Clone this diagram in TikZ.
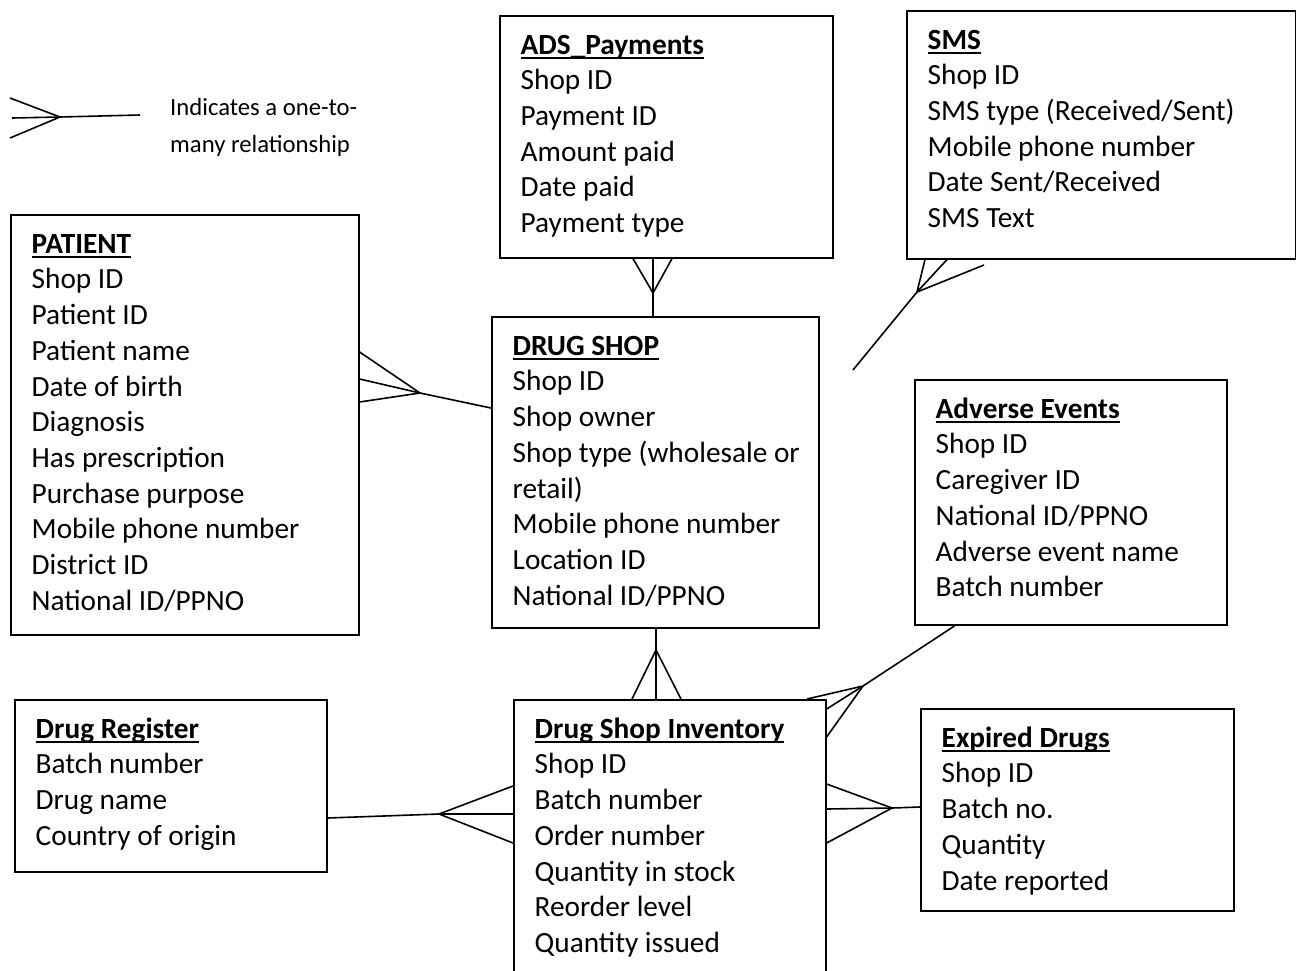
\documentclass[tikz,border=0pt]{standalone}
\usepackage{fontspec}
\setmainfont{Carlito}
\newcommand{\hd}[1]{\setbox0\hbox{\bfseries #1}\rlap{\rule[-4.5pt]{\wd0}{2pt}}\box0}
\begin{document}
\begin{tikzpicture}[x=1pt,y=-1pt,
  box/.style={draw, line width=1.6pt, inner sep=0pt, anchor=north west},
  txt/.style={anchor=north west, align=left, inner sep=0pt, font=\fontsize{29.3}{35.7}\selectfont},
  conn/.style={line width=1.6pt, line join=miter}]
\useasboundingbox (0,0) rectangle (1296,970);
\clip (0,0) rectangle (1296,970);
\fill[white] (0,0) rectangle (1296,970);

% boxes
\node[box, minimum width=333pt, minimum height=242pt] (ads) at (499,15) {};
\node[box, minimum width=389pt, minimum height=248pt] (sms) at (906,10) {};
\node[box, minimum width=348pt, minimum height=420pt] (pat) at (10,214) {};
\node[box, minimum width=327pt, minimum height=311pt] (shop) at (491,316) {};
\node[box, minimum width=312pt, minimum height=245pt] (adv) at (914,379) {};
\node[box, minimum width=312pt, minimum height=172pt] (reg) at (14,699) {};
\node[box, minimum width=312pt, minimum height=290pt] (inv) at (513,699) {};
\node[box, minimum width=313pt, minimum height=202pt] (exp) at (920,708) {};

% texts
\node[txt] (adst) at ([xshift=21.5pt,yshift=-14pt]ads.north west)
 {\strut\hd{ADS\_Payments}\\Shop ID\\Payment ID\\Amount paid\\Date paid\\Payment type};
\node[txt] (smst) at ([xshift=21.5pt,yshift=-14pt]sms.north west)
 {\strut\hd{SMS}\\Shop ID\\SMS type (Received/Sent)\\Mobile phone number\\Date Sent/Received\\SMS Text};
\node[txt] (patt) at ([xshift=21.5pt,yshift=-14pt]pat.north west)
 {\strut\hd{PATIENT}\\Shop ID\\Patient ID\\Patient name\\Date of birth\\Diagnosis\\Has prescription\\Purchase purpose\\Mobile phone number\\District ID\\National ID/PPNO};
\node[txt] (shopt) at ([xshift=21.5pt,yshift=-14pt]shop.north west)
 {\strut\hd{DRUG SHOP}\\Shop ID\\Shop owner\\Shop type (wholesale or\\retail)\\Mobile phone number\\Location ID\\National ID/PPNO};
\node[txt] (advt) at ([xshift=21.5pt,yshift=-14pt]adv.north west)
 {\strut\hd{Adverse Events}\\Shop ID\\Caregiver ID\\National ID/PPNO\\Adverse event name\\Batch number};
\node[txt] (regt) at ([xshift=21.5pt,yshift=-14pt]reg.north west)
 {\strut\hd{Drug Register}\\Batch number\\Drug name\\Country of origin};
\node[txt] (invt) at ([xshift=21.5pt,yshift=-14pt]inv.north west)
 {\strut\hd{Drug Shop Inventory}\\Shop ID\\Batch number\\Order number\\Quantity in stock\\Reorder level\\Quantity issued};
\node[txt] (expt) at ([xshift=21.5pt,yshift=-14pt]exp.north west)
 {\strut\hd{Expired Drugs}\\Shop ID\\Batch no.\\Quantity\\Date reported};

% legend
\coordinate (c0) at (60,117);
\coordinate (l1) at (10,98);
\coordinate (l2) at (12,118);
\coordinate (l3) at (10,138);
\coordinate (l4) at (140,115);
\draw[conn] (l1) -- (c0) -- (l3);
\draw[conn] (l2) -- (c0) -- (l4);
\node[anchor=north west, align=left, inner sep=0pt, font=\fontsize{24.7}{37}\selectfont] (leg) at (170,89)
 {\strut Indicates a one-to-\\many relationship};

% ADS - DRUG SHOP
\coordinate (c1) at (653,293);
\draw[conn] (c1 |- shop.north) -- (c1);
\draw[conn] ([xshift=-20pt]c1 |- ads.south) -- (c1) -- ([xshift=19pt]c1 |- ads.south);
\draw[conn] (c1 |- ads.south) -- (c1);

% PATIENT - DRUG SHOP
\coordinate (c2) at (420,393);
\draw[conn] ([yshift=41pt]c2 -| pat.east) -- (c2) -- ([yshift=-9pt]c2 -| pat.east);
\draw[conn] ([yshift=14pt]c2 -| pat.east) -- (c2) -- ([yshift=-15pt]c2 -| shop.west);

% SMS - DRUG SHOP
\coordinate (c3) at (917,292);
\coordinate (e3) at (853,370);
\coordinate (f3) at (984,265);
\draw[conn] (e3) -- (c3);
\draw[conn] ([xshift=8pt]c3 |- sms.south) -- (c3) -- ([xshift=30pt]c3 |- sms.south);
\draw[conn] (c3) -- (f3);

% DRUG SHOP - INVENTORY
\coordinate (c4) at (656,650);
\draw[conn] (c4 |- shop.south) -- (c4);
\draw[conn] ([xshift=-24pt]c4 |- inv.north) -- (c4) -- ([xshift=25pt]c4 |- inv.north);
\draw[conn] (c4 |- inv.north) -- (c4);

% ADVERSE - INVENTORY
\coordinate (c5) at (863,686);
\draw[conn] ([xshift=92pt]c5 |- adv.south) -- (c5);
\draw[conn] ([xshift=-56pt]c5 |- inv.north) -- (c5) -- ([yshift=-51pt]c5 -| inv.east);
\draw[conn] ([yshift=-23pt]c5 -| inv.east) -- (c5);

% REGISTER - INVENTORY
\coordinate (c6) at (439,814);
\draw[conn] ([yshift=-4pt]c6 -| reg.east) -- (c6);
\draw[conn] ([yshift=28pt]c6 -| inv.west) -- (c6) -- ([yshift=-29pt]c6 -| inv.west);
\draw[conn] (c6 -| inv.west) -- (c6);

% INVENTORY - EXPIRED
\coordinate (c7) at (892,808);
\draw[conn] ([yshift=1pt]c7 -| exp.west) -- (c7);
\draw[conn] ([yshift=24pt]c7 -| inv.east) -- (c7) -- ([yshift=-35pt]c7 -| inv.east);
\draw[conn] ([yshift=-1pt]c7 -| inv.east) -- (c7);
\end{tikzpicture}
\end{document}
